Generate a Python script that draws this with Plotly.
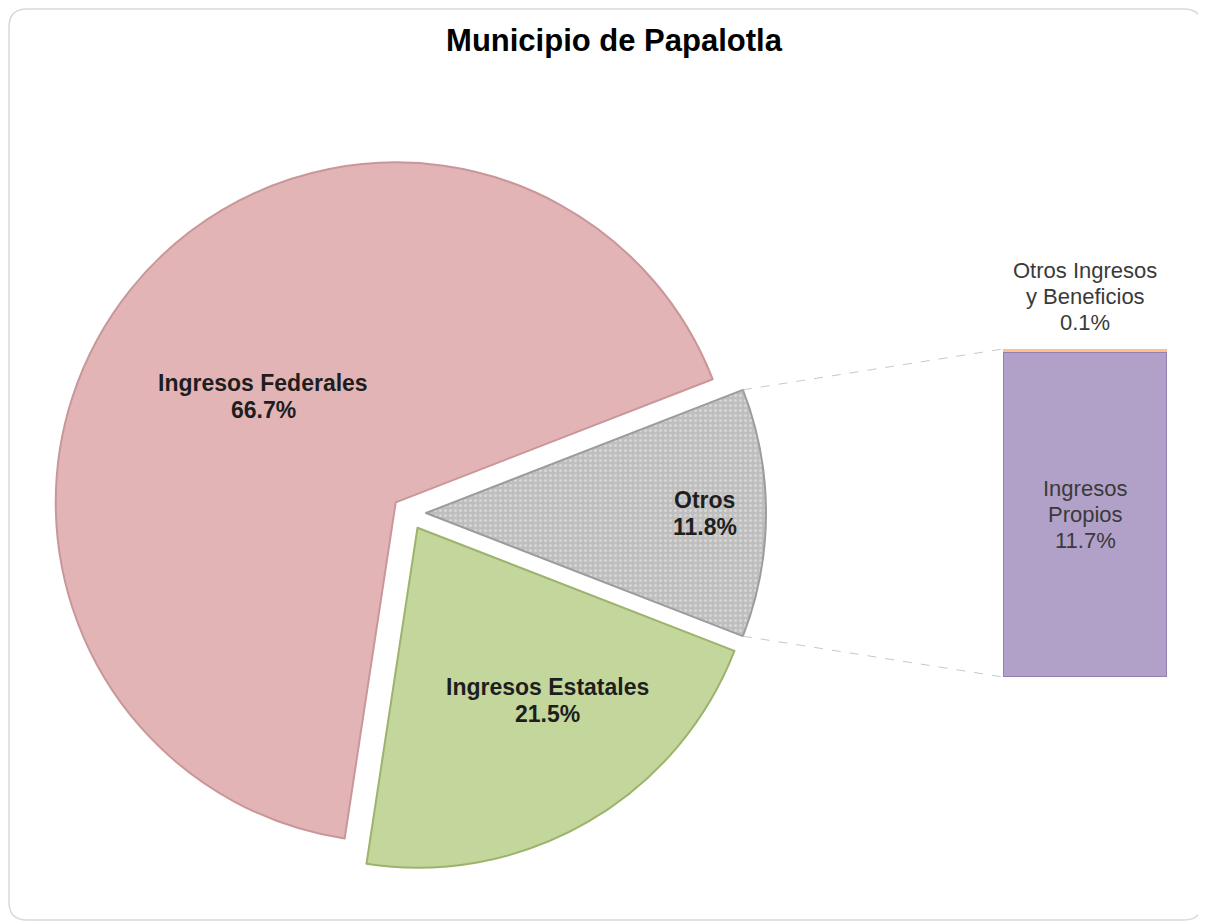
import math
import plotly.graph_objects as go

# ---------------- data ----------------
pie_labels = ["Otros", "Ingresos Estatales", "Ingresos Federales"]
pie_values = [11.8, 21.5, 66.7]
bar_labels = ["Ingresos Propios", "Otros Ingresos y Beneficios"]
bar_values = [11.7, 0.1]
title_text = "Municipio de Papalotla"

# ---------------- styling / layout ----------------
OFF = 8                        # page body margin added by the browser
SW, SH = 1206, 924             # screen size
W, H = SW - OFF, SH - OFF      # figure size


def fx(px):   # screen px -> paper x
    return (px - OFF) / W


def fy(py):   # screen px -> paper y
    return 1 - (py - OFF) / H


PIE_CX, PIE_CY, PIE_R = 409, 513, 340      # screen-pixel geometry of the pie
PULL = 0.05
pie_colors = ["#C0C0C0", "#C3D69B", "#E3B4B6"]
pie_lines = ["#9C9C9C", "#9DB36C", "#C9979A"]
label_frac = [0.82, 0.635, 0.50]
label_shift = [0.0, 7.0, 0.0]
LINE_GAP = 27

BAR_X0, BAR_X1, BAR_Y0, BAR_Y1 = 1003, 1167, 349, 677   # screen-pixel box of the bar

FONT = "Liberation Sans, Arial, sans-serif"

total = sum(pie_values)
other_share = pie_values[0] / total * 360.0
rotation = 90.0 - other_share / 2.0        # centre the "Otros" slice on 3 o'clock

box = 2 * PIE_R * (1 + PULL)
pie_dom_x = [fx(PIE_CX - box / 2), fx(PIE_CX + box / 2)]
pie_dom_y = [fy(PIE_CY + box / 2), fy(PIE_CY - box / 2)]

bar_dom_x = [fx(BAR_X0), fx(BAR_X1)]
bar_dom_y = [fy(BAR_Y1), fy(BAR_Y0)]
bar_total = sum(bar_values)

fig = go.Figure()

fig.add_trace(go.Pie(
    labels=pie_labels,
    values=pie_values,
    sort=False,
    direction="clockwise",
    rotation=rotation,
    pull=[PULL] * len(pie_values),
    textinfo="none",
    hoverinfo="label+percent",
    showlegend=False,
    domain=dict(x=pie_dom_x, y=pie_dom_y),
    marker=dict(
        colors=pie_colors,
        line=dict(color=pie_lines, width=2),
        pattern=dict(shape=[".", "", ""], fgcolor="#D6D6D6", bgcolor="#BEBEBE",
                     size=5, solidity=0.3),
    ),
))

fig.add_trace(go.Bar(
    x=[0], y=[bar_values[0]], width=[1],
    name=bar_labels[0],
    marker=dict(color="#B1A0C7", line=dict(color="#9480B0", width=2)),
    showlegend=False, xaxis="x", yaxis="y",
))
fig.add_trace(go.Bar(
    x=[0], y=[bar_values[1]], width=[1],
    name=bar_labels[1],
    marker=dict(color="#FAC090", line=dict(width=0)),
    showlegend=False, xaxis="x", yaxis="y",
))

# ---------- derived geometry: labels and connectors ----------
annotations = []


def add_lines(lines, x, y, xref, yref, size, color, gap, bold):
    n = len(lines)
    for k, t in enumerate(lines):
        shift = -(k - (n - 1) / 2.0) * gap
        annotations.append(dict(
            x=x, y=y, xref=xref, yref=yref, yshift=shift,
            text=f"<b>{t}</b>" if bold else t,
            showarrow=False, xanchor="center", yanchor="middle",
            font=dict(family=FONT, size=size, color=color),
        ))


start = rotation
for i, (lab, v) in enumerate(zip(pie_labels, pie_values)):
    span = v / total * 360.0
    mid_cw = start + span / 2.0
    start += span
    a = math.radians(90.0 - mid_cw)
    vx = PIE_CX + PULL * PIE_R * math.cos(a)
    vy = PIE_CY - PULL * PIE_R * math.sin(a)
    a2 = math.radians(90.0 - mid_cw + label_shift[i])
    lx = vx + label_frac[i] * PIE_R * math.cos(a2)
    ly = vy - label_frac[i] * PIE_R * math.sin(a2)
    add_lines([lab, f"{v / total * 100:.1f}%"], fx(lx), fy(ly), "paper", "paper",
              23, "#1E1E1E", LINE_GAP, True)

# bar labels
add_lines(["Ingresos", "Propios", f"{bar_values[0]:.1f}%"], 0, bar_values[0] / 2, "x", "y",
          22, "#3A3A3A", 26, False)
add_lines(["Otros Ingresos", "y Beneficios", f"{bar_values[1]:.1f}%"], 0, bar_total, "x", "y",
          22, "#3A3A3A", 26, False)
for ann in annotations[-3:]:
    ann["yshift"] += 53

# connectors from the "Otros" slice corners to the bar corners
half = math.radians(other_share / 2.0)
ox = PIE_CX + PULL * PIE_R + PIE_R * math.cos(half)
oy_top = PIE_CY - PIE_R * math.sin(half)
oy_bot = PIE_CY + PIE_R * math.sin(half)
shapes = [
    dict(type="line", xref="paper", yref="paper",
         x0=fx(ox), y0=fy(oy_top), x1=bar_dom_x[0], y1=bar_dom_y[1],
         line=dict(color="#C8C8C8", width=1, dash="dash")),
    dict(type="line", xref="paper", yref="paper",
         x0=fx(ox), y0=fy(oy_bot), x1=bar_dom_x[0], y1=bar_dom_y[0],
         line=dict(color="#C8C8C8", width=1, dash="dash")),
]

# rounded chart border
bx0, by0, bx1, by1, rr = 9, 9, 1202, 920, 18


def P(x, y):
    return f"{fx(x):.5f},{fy(y):.5f}"


path = (f"M {P(bx0 + rr, by0)} L {P(bx1 - rr, by0)} Q {P(bx1, by0)} {P(bx1, by0 + rr)} "
        f"L {P(bx1, by1 - rr)} Q {P(bx1, by1)} {P(bx1 - rr, by1)} "
        f"L {P(bx0 + rr, by1)} Q {P(bx0, by1)} {P(bx0, by1 - rr)} "
        f"L {P(bx0, by0 + rr)} Q {P(bx0, by0)} {P(bx0 + rr, by0)} Z")
shapes.append(dict(type="path", xref="paper", yref="paper", path=path,
                   line=dict(color="#D9D9D9", width=1.5), layer="below"))

fig.update_layout(
    width=W, height=H,
    margin=dict(l=0, r=0, t=0, b=0),
    paper_bgcolor="white", plot_bgcolor="rgba(0,0,0,0)",
    barmode="stack", bargap=0,
    title=dict(text=f"<b>{title_text}</b>", x=fx(614), xanchor="center",
               y=fy(40), yanchor="middle", xref="paper", yref="paper",
               font=dict(family="Liberation Sans Narrow, Arial Narrow, Liberation Sans, Arial, sans-serif",
                         size=31, color="#000000")),
    xaxis=dict(domain=bar_dom_x, range=[-0.5, 0.5], visible=False, fixedrange=True),
    yaxis=dict(domain=bar_dom_y, range=[0, bar_total], visible=False, fixedrange=True),
    annotations=annotations,
    shapes=shapes,
    showlegend=False,
)

fig.write_html("out.html")
